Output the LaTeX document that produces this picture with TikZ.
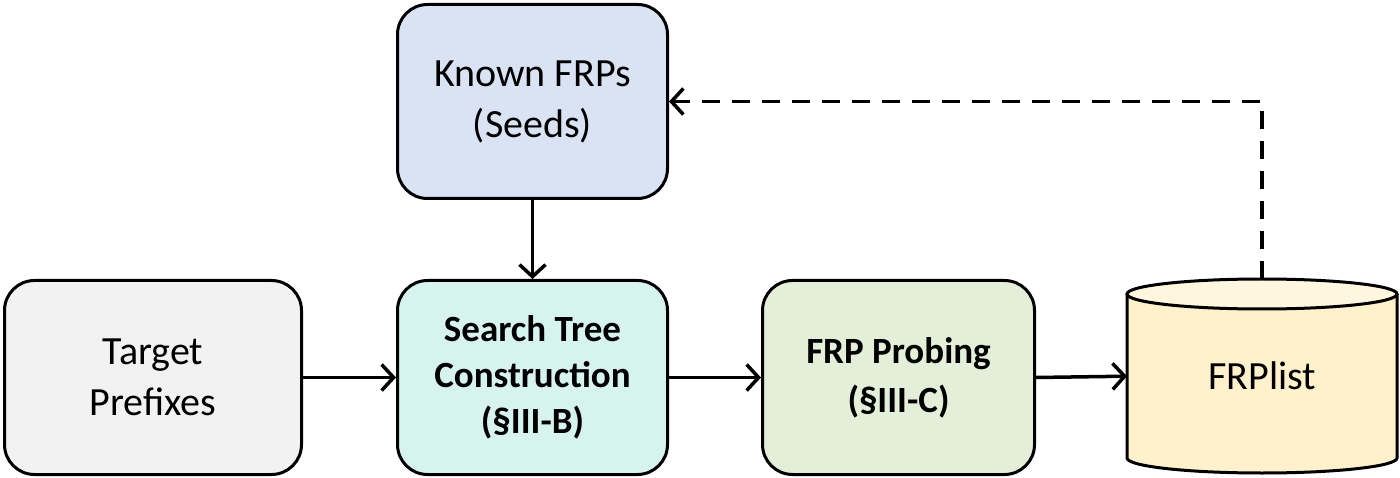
\documentclass[tikz,border=0pt]{standalone}
\usepackage{fontspec}
\setmainfont{Carlito}
\usetikzlibrary{arrows.meta}
\definecolor{cknown}{HTML}{DAE3F3}
\definecolor{ctarget}{HTML}{F2F2F2}
\definecolor{csearch}{HTML}{D6F3EE}
\definecolor{cprobe}{HTML}{E3EFD9}
\definecolor{cdb}{HTML}{FFF1CC}
\definecolor{cdbtop}{HTML}{FFF6E0}
\tikzset{
  box/.style={draw=black, line width=3pt, rounded corners=30pt, align=center,
    font=\fontsize{40}{51}\selectfont, inner sep=0pt, anchor=north west},
  tip/.style={-{Straight Barb[length=12pt,width=26pt,line width=3.5pt]}},
  conn/.style={line width=3.5pt, tip},
}
\begin{document}
\begin{tikzpicture}[x=1pt,y=-1pt]
\useasboundingbox (0,0) rectangle (1400,478);
\node[box, fill=cknown, minimum width=270pt, minimum height=194pt] (known) at (396,3) {Known FRPs\\(Seeds)};
\node[box, fill=ctarget, minimum width=297pt, minimum height=194pt] (target) at (3,279) {Target\\Prefixes};
\node[box, fill=csearch, minimum width=270pt, minimum height=194pt, font=\fontsize{37}{46}\selectfont\bfseries] (search) at (396,279) {Search Tree\\Construction\\(§III-B)};
\node[box, fill=cprobe, minimum width=272pt, minimum height=194pt, font=\fontsize{37}{49}\selectfont\bfseries] (probe) at (761,279) {FRP Probing\\(§III-C)};
% cylinder
\fill[cdb] (1127,294) -- (1127,458) arc[start angle=180, end angle=360, x radius=135, y radius=-15] -- (1397,294) -- cycle;
\fill[cdbtop] (1262,294) ellipse[x radius=135, y radius=15];
\draw[line width=3pt] (1127,294) -- (1127,458) arc[start angle=180, end angle=360, x radius=135, y radius=-15] -- (1397,294);
\draw[line width=3pt] (1262,294) ellipse[x radius=135, y radius=15];
\node[inner sep=0pt, minimum width=270pt, minimum height=194pt, anchor=north west, font=\fontsize{40}{51}\selectfont] (db) at (1127,279) {\raisebox{-12pt}{FRPlist}};
\draw[conn] (known.south) -- (search.north);
\draw[conn] (target.east) -- (search.west);
\draw[conn] (search.east) -- (probe.west);
\draw[conn] (probe.east) -- (db.west);
\draw[conn, dash pattern=on 18pt off 12pt] (db.north) |- (known.east);
\end{tikzpicture}
\end{document}
